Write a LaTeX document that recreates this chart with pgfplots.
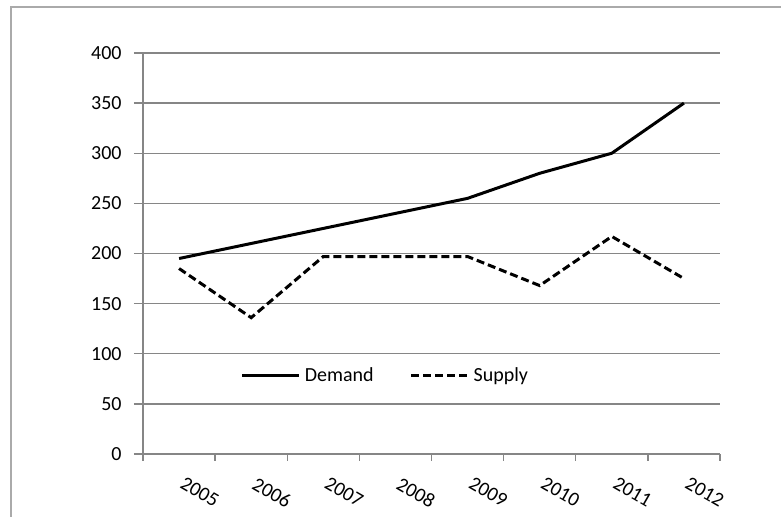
\documentclass[border=0pt]{standalone}
\usepackage{fontspec}
\setmainfont{Carlito}
\usepackage{pgfplots}
\pgfplotsset{compat=1.18}

\definecolor{axisgray}{RGB}{134,134,134}
\definecolor{framegray}{RGB}{170,170,170}

\begin{document}
\begin{tikzpicture}
\begin{axis}[
    scale only axis,
    width=288.5pt, height=200.5pt,
    xmin=-0.5, xmax=7.5,
    ymin=0, ymax=400,
    axis x line*=bottom,
    axis y line*=left,
    axis line style={axisgray, line width=0.65pt},
    xtick={0,...,7},
    xticklabels={2005,2006,2007,2008,2009,2010,2011,2012},
    minor xtick={-0.5,0.5,...,7.5},
    ytick={0,50,...,400},
    tick align=outside,
    major x tick style={draw=none},
    minor x tick style={axisgray, line width=0.65pt},
    major y tick style={axisgray, line width=0.65pt},
    minor tick length=3.5pt,
    major tick length=4.5pt,
    ymajorgrids,
    grid style={axisgray, line width=0.65pt},
    /pgf/number format/assume math mode=true,
    tick label style={font=\fontsize{10pt}{12pt}\selectfont, inner sep=0pt},
    x tick label style={rotate=-30, anchor=north west, yshift=-4pt, xshift=6pt},
    y tick label style={anchor=east, xshift=-6pt},
    legend columns=2,
    legend style={at={(0.422,0.1945)}, anchor=center, draw=none, fill=none,
        font=\fontsize{10pt}{12pt}\selectfont, inner sep=0pt,
        /tikz/every even column/.append style={column sep=16pt}},
    legend cell align=left,
    legend image code/.code={\draw[#1] (0pt,0pt) -- (28.5pt,0pt);},
    clip=false,
]
    \coordinate (bl) at (rel axis cs:0,0);
    \addplot[black, line width=1.5pt] coordinates {
        (0,195) (1,210) (2,225) (3,240) (4,255) (5,280) (6,300) (7,350)};
    \addlegendentry{Demand}
    \addplot[black, line width=1.5pt, dash pattern=on 4pt off 2pt] coordinates {
        (0,185) (1,136) (2,197) (3,197) (4,197) (5,168) (6,217) (7,175)};
    \addlegendentry{Supply}
\end{axis}
\draw[framegray, line width=0.65pt, shift={(bl)}]
    (-66pt,-31.5pt) -- (-66pt,223.5pt) -- (319pt,223.5pt);
\pgfresetboundingbox
\path[use as bounding box, shift={(bl)}] (-71.5pt,-31.5pt) rectangle (319pt,227pt);
\end{tikzpicture}
\end{document}
